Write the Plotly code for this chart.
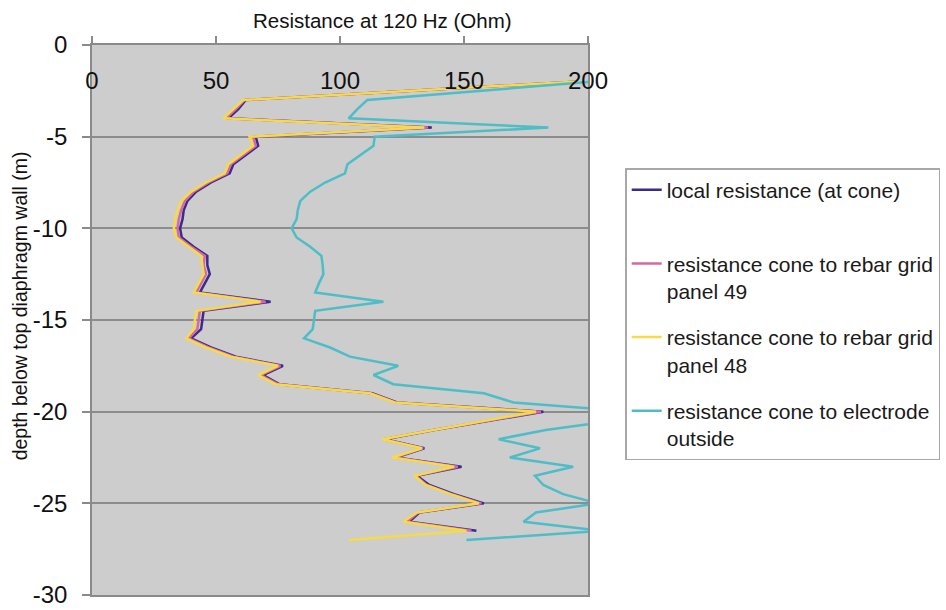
import plotly.graph_objects as go

# ---------------- data ----------------
depth = [-2, -2.5, -3, -3.5, -4, -4.5, -5, -5.5, -6, -6.5, -7, -7.5, -8, -8.5, -9, -9.5,
         -10, -10.5, -11, -11.5, -12, -12.5, -13, -13.5, -14, -14.5, -15, -15.5, -16, -16.5,
         -17, -17.5, -18, -18.5, -19, -19.5, -20, -20.5, -21, -21.5, -22, -22.5, -23, -23.5,
         -24, -24.5, -25, -25.5, -26, -26.5, -27]

local_cone = [195, 128, 62, 59, 55, 137, 66, 67, 62, 57, 55.5, 48, 42, 38.5, 37, 36.5,
              35.5, 36.2, 41, 46.5, 46.5, 47.5, 45.5, 43.5, 72, 45, 44.5, 44, 40, 48,
              58, 77, 69, 75.5, 113, 123, 182, 160, 138, 118, 134, 122.5, 149, 131,
              136, 146, 158, 132, 128, 155, None]

panel_49 = [195, 128, 61.5, 58, 54, 135.5, 65, 66, 61, 56, 54.5, 47, 41, 37.5, 36, 35,
            34.5, 35, 40, 45.5, 45, 46, 44, 42, 70, 43.5, 43, 42.5, 39, 47,
            57, 76, 68, 75, 112.5, 122.5, 181, 159, 137.5, 117.5, 133.5, 122, 147.5, 130.5,
            135, 145, 157, 131.5, 127, 153, None]

panel_48 = [195, 128, 61, 57, 53, 134, 63.5, 65, 60, 55, 53.5, 46, 40, 36, 34.5, 33.5,
            33, 34, 39, 44, 44.5, 45, 43, 41, 68, 42, 41.5, 41, 38, 46,
            56, 75, 67, 74, 112, 122, 179, 158, 137, 117, 133, 121, 146, 130,
            134.5, 144.5, 156, 131, 125.5, 151, 103.5]

electrode_outside = [202, 156, 111, 107, 103.5, 184, 114, 113.5, 108, 103, 102, 94, 88, 84, 83, 82.5,
                     80.5, 82.5, 88, 92.5, 93, 93.3, 91.5, 90, 117.5, 90, 89.5, 89, 85.5, 96,
                     104, 123.5, 113.5, 121.5, 158, 170, 218, 210, 183, 164, 180.6, 168.5, 194, 178.6,
                     182, 190, 204, 179, 174, 205, 151]

series_names = ["local resistance (at cone)<br> ",
                "resistance cone to rebar grid<br>panel 49",
                "resistance cone to rebar grid<br>panel 48",
                "resistance cone to electrode<br>outside"]
series_colors = ["#3a2b8c", "#d46aa0", "#f6da48", "#4dbdc7"]

x_ticks = [0, 50, 100, 150, 200]
y_ticks = [0, -5, -10, -15, -20, -25, -30]
y_ticktext = ["0", "-5", "-10", "-15", "-20", "-25", "-30"]

FONT = "Liberation Sans, Arial, sans-serif"

fig = go.Figure()
for i, (vals, name, col) in enumerate(zip([local_cone, panel_49, panel_48, electrode_outside],
                                          series_names, series_colors)):
    fig.add_trace(go.Scatter(x=vals, y=depth, mode="lines", name=name,
                             legendgroup=f"g{i}",
                             line=dict(color=col, width=2.5), connectgaps=False))

fig.update_layout(
    width=946, height=610,
    margin=dict(l=92, r=358, t=45, b=15, autoexpand=False),
    paper_bgcolor="white",
    plot_bgcolor="#cdcdcd",
    font=dict(family=FONT, color="#111111"),
    showlegend=True,
    legend=dict(x=1.075, y=0.776, xanchor="left", yanchor="top",
                bgcolor="white", bordercolor="#a8a8a8", borderwidth=1.5,
                font=dict(size=21, family=FONT, color="#1a1a1a"),
                valign="top", tracegroupgap=16, traceorder="grouped", itemwidth=30),
    xaxis=dict(range=[0, 200], side="top", tickvals=x_ticks,
               ticks="outside", ticklen=7, tickcolor="#8a8a8a", tickwidth=1.5,
               ticklabelposition="inside", ticklabeloverflow="allow",
               ticklabelstandoff=29,
               tickfont=dict(size=24, family=FONT, color="#111111"),
               showgrid=False, zeroline=False,
               showline=True, linecolor="#8a8a8a", linewidth=1.5, mirror=True),
    yaxis=dict(range=[-30, 0], tickvals=y_ticks, ticktext=y_ticktext,
               ticks="outside", ticklen=8, tickcolor="#8a8a8a", tickwidth=1.5,
               ticklabelstandoff=10, ticklabeloverflow="allow",
               tickfont=dict(size=24, family=FONT, color="#111111"),
               showgrid=True, gridcolor="#8c8c8c", gridwidth=1.5, zeroline=False,
               showline=True, linecolor="#8a8a8a", linewidth=1.5, mirror=True),
    annotations=[
        dict(text="Resistance at 120 Hz (Ohm)", xref="paper", yref="paper",
             x=0.585, y=1.045, xanchor="center", yanchor="middle", showarrow=False,
             font=dict(size=20.5, family=FONT, color="#111111")),
        dict(text="depth below top diaphragm wall (m)", xref="paper", yref="paper",
             x=-0.145, y=0.525, xanchor="center", yanchor="middle", showarrow=False,
             textangle=-90, font=dict(size=19.5, family=FONT, color="#111111")),
    ],
)

fig.write_html("out.html")
